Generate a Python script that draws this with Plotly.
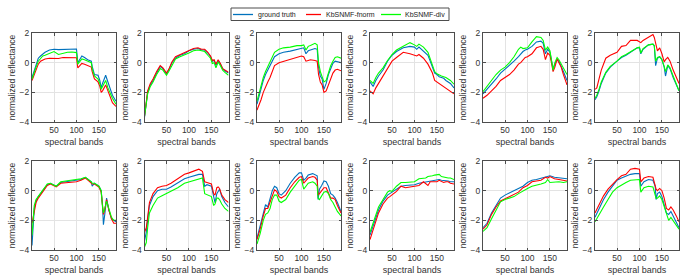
import plotly.graph_objects as go
from plotly.subplots import make_subplots

# ---------------- data ----------------
series_names = ["ground truth", "KbSNMF-fnorm", "KbSNMF-div"]
x_ticks = [50, 100, 150]
y_ticks = [-4, -2, 0, 2]

p1_bands = [1, 5, 10, 15, 20, 25, 30, 40, 50, 60, 70, 80, 90, 100, 103, 107, 112, 118, 125, 133, 135, 140, 148, 152, 155, 158, 165, 170, 175, 180, 188]
p1_truth = [-1.0, -0.6, -0.1, 0.3, 0.45, 0.6, 0.7, 0.85, 0.9, 0.88, 0.9, 0.93, 0.95, 0.92, 0.0, 0.2, 0.45, 0.35, 0.2, 0.1, -0.25, -0.8, -0.85, -1.2, -1.7, -1.4, -0.85, -1.3, -1.8, -2.2, -2.6]
p1_fnorm = [-1.2, -0.9, -0.4, -0.1, 0.1, 0.2, 0.25, 0.3, 0.3, 0.28, 0.35, 0.35, 0.38, 0.33, -0.35, -0.2, -0.05, -0.1, -0.2, -0.3, -0.6, -1.1, -1.3, -1.6, -2.0, -1.9, -1.5, -1.9, -2.4, -2.7, -2.95]
p1_div = [-1.1, -0.8, -0.3, 0.1, 0.3, 0.45, 0.5, 0.6, 0.75, 0.55, 0.65, 0.7, 0.72, 0.68, -0.1, 0.05, 0.25, 0.2, 0.1, 0.0, -0.4, -0.9, -1.1, -1.4, -1.8, -1.6, -1.2, -1.7, -2.1, -2.4, -2.8]

p2_bands = [1, 4, 8, 14, 20, 28, 36, 42, 50, 55, 62, 70, 80, 90, 100, 110, 120, 128, 135, 142, 148, 152, 156, 160, 165, 170, 175, 180, 188]
p2_truth = [-3.7, -2.8, -2.0, -1.5, -1.2, -0.7, -0.25, -0.4, -0.75, -0.5, 0.0, 0.3, 0.5, 0.6, 0.8, 0.9, 0.95, 0.85, 0.85, 0.65, 0.4, 0.1, 0.15, -0.2, 0.15, -0.1, -0.4, -0.55, -0.7]
p2_fnorm = [-3.6, -2.7, -1.9, -1.4, -1.1, -0.6, -0.2, -0.35, -0.7, -0.45, 0.05, 0.4, 0.55, 0.7, 0.85, 0.95, 1.0, 0.9, 0.9, 0.7, 0.45, 0.15, 0.2, -0.1, 0.2, -0.05, -0.4, -0.5, -0.65]
p2_div = [-3.6, -2.8, -2.1, -1.6, -1.3, -0.8, -0.4, -0.5, -0.85, -0.6, -0.15, 0.25, 0.4, 0.5, 0.65, 0.8, 0.85, 0.8, 0.75, 0.5, 0.3, -0.05, 0.0, -0.35, 0.05, -0.2, -0.5, -0.65, -0.85]

p3_bands = [1, 5, 10, 15, 20, 25, 30, 35, 40, 50, 60, 75, 90, 100, 105, 110, 115, 120, 130, 135, 138, 142, 146, 150, 155, 160, 165, 170, 175, 180, 188]
p3_truth = [-2.8, -2.3, -1.7, -1.2, -0.8, -0.5, -0.3, 0.1, 0.4, 0.6, 0.7, 0.78, 0.9, 0.95, 1.0, 0.6, 0.8, 0.85, 0.95, 0.9, -0.3, -0.9, -1.1, -1.8, -1.4, -0.8, -0.35, -0.05, 0.1, 0.05, 0.0]
p3_fnorm = [-3.2, -2.9, -2.5, -2.0, -1.6, -1.3, -1.0, -0.6, -0.2, 0.0, 0.1, 0.2, 0.35, 0.45, 0.4, 0.1, 0.15, 0.2, 0.15, 0.1, -0.8, -1.3, -1.5, -2.0, -1.9, -1.5, -1.0, -0.7, -0.5, -0.45, -0.55]
p3_div = [-2.6, -2.1, -1.5, -1.0, -0.6, -0.3, 0.1, 0.4, 0.7, 0.9, 1.0, 1.05, 1.15, 1.15, 1.2, 0.85, 1.1, 1.15, 1.3, 1.2, 0.0, -0.6, -0.9, -1.3, -1.2, -0.7, -0.2, 0.1, 0.35, 0.4, 0.3]

p4_bands = [1, 4, 8, 14, 20, 30, 40, 50, 60, 75, 90, 100, 105, 110, 120, 130, 135, 140, 145, 150, 155, 160, 165, 170, 180, 188]
p4_truth = [-1.3, -1.45, -1.6, -1.2, -0.9, -0.5, 0.1, 0.5, 0.75, 1.0, 1.1, 1.05, 0.9, 1.05, 0.8, 0.5, 0.1, -0.3, -0.7, -0.8, -0.95, -1.0, -1.05, -1.2, -1.4, -1.7]
p4_fnorm = [-1.9, -2.0, -2.1, -1.7, -1.4, -0.95, -0.4, 0.1, 0.35, 0.7, 0.6, 0.5, 0.45, 0.55, 0.3, -0.1, -0.4, -0.7, -1.2, -1.3, -1.45, -1.5, -1.6, -1.7, -1.9, -2.1]
p4_div = [-1.2, -1.3, -1.4, -1.0, -0.7, -0.35, 0.15, 0.55, 0.85, 1.1, 1.35, 1.2, 1.1, 1.25, 1.05, 0.7, 0.3, -0.2, -0.6, -0.75, -0.85, -0.9, -0.95, -1.0, -1.2, -1.45]

p5_bands = [1, 10, 20, 30, 40, 50, 60, 70, 80, 85, 90, 95, 100, 110, 120, 130, 135, 140, 145, 150, 154, 157, 161, 166, 170, 175, 180, 188]
p5_truth = [-2.1, -1.8, -1.5, -1.1, -0.7, -0.45, -0.2, 0.1, 0.4, 0.6, 0.75, 0.85, 0.9, 1.1, 1.4, 1.45, 1.3, 0.6, 0.9, 0.7, 0.0, -0.4, -0.1, 0.2, 0.1, -0.2, -0.6, -1.2]
p5_fnorm = [-2.4, -2.2, -1.9, -1.6, -1.2, -1.0, -0.8, -0.5, -0.1, 0.0, 0.2, 0.35, 0.4, 0.6, 1.0, 1.1, 0.9, 0.2, 0.65, 0.5, -0.1, -0.6, -0.3, 0.25, 0.0, -0.3, -0.8, -1.5]
p5_div = [-1.95, -1.6, -1.2, -0.8, -0.5, -0.3, 0.0, 0.4, 0.9, 1.05, 0.95, 0.95, 1.0, 1.4, 1.75, 1.7, 1.5, 0.85, 1.05, 0.8, 0.1, -0.5, 0.0, 0.35, 0.2, -0.1, -0.3, -0.8]

p6_bands = [1, 5, 10, 15, 25, 35, 50, 60, 70, 80, 95, 100, 103, 108, 120, 130, 133, 136, 140, 145, 150, 155, 158, 163, 168, 175, 182, 188]
p6_truth = [-2.5, -2.3, -1.9, -1.4, -0.7, -0.3, 0.1, 0.35, 0.5, 0.7, 1.0, 1.0, 0.6, 0.9, 1.2, 1.25, 1.15, -0.2, 0.3, 0.4, 0.2, -0.3, -0.9, -0.2, -0.4, -1.0, -1.5, -1.9]
p6_fnorm = [-1.8, -1.7, -1.1, -0.5, 0.3, 0.5, 0.7, 1.1, 1.15, 1.5, 1.5, 1.4, 1.35, 1.5, 1.75, 1.9, 1.7, 1.3, 0.8, 1.0, 0.6, 0.05, 0.2, 0.35, 0.1, -0.5, -1.0, -1.4]
p6_div = [-2.4, -2.2, -1.8, -1.3, -0.65, -0.25, 0.1, 0.4, 0.55, 0.75, 1.0, 1.05, 0.65, 0.95, 1.2, 1.25, 1.15, 0.1, 0.35, 0.4, 0.2, -0.25, -0.6, -0.15, -0.35, -0.9, -1.4, -1.9]

p7_bands = [1, 3, 6, 10, 15, 25, 35, 42, 48, 55, 65, 80, 90, 100, 110, 120, 128, 133, 135, 140, 150, 155, 158, 160, 163, 167, 172, 178, 183, 188]
p7_truth = [-3.7, -2.5, -1.2, -0.7, -0.4, 0.0, 0.4, 0.5, 0.4, 0.3, 0.55, 0.6, 0.65, 0.7, 0.75, 0.9, 0.7, 0.6, 0.3, 0.5, 0.3, 0.0, -1.0, -2.3, -1.6, -0.5, -1.3, -1.9, -2.0, -2.1]
p7_fnorm = [-2.2, -1.9, -1.2, -0.8, -0.5, -0.1, 0.35, 0.45, 0.35, 0.25, 0.5, 0.55, 0.55, 0.6, 0.7, 0.85, 0.65, 0.55, 0.45, 0.45, 0.25, -0.1, -1.2, -1.6, -1.3, -0.6, -1.3, -1.9, -2.2, -2.2]
p7_div = [-3.0, -2.0, -1.0, -0.6, -0.4, 0.05, 0.45, 0.5, 0.4, 0.3, 0.6, 0.65, 0.7, 0.75, 0.8, 0.9, 0.75, 0.6, 0.5, 0.5, 0.3, 0.0, -1.1, -1.5, -1.2, -0.7, -1.2, -1.8, -2.0, -2.0]

p8_bands = [1, 5, 8, 12, 20, 30, 40, 50, 60, 75, 90, 100, 115, 122, 130, 135, 140, 145, 150, 155, 158, 162, 165, 168, 173, 180, 188]
p8_truth = [-3.4, -2.8, -2.0, -1.0, -0.4, 0.0, 0.1, 0.1, 0.25, 0.5, 0.8, 0.9, 1.05, 1.1, 1.1, 0.3, 0.4, 0.35, 0.3, -0.4, -0.8, -0.2, 0.0, 0.1, -0.4, -0.8, -1.1]
p8_fnorm = [-2.8, -2.5, -1.8, -0.8, -0.2, 0.2, 0.3, 0.35, 0.5, 0.8, 1.1, 1.2, 1.35, 1.45, 1.3, 0.6, 0.55, 0.5, 0.45, -0.2, -0.3, 0.2, 0.25, 0.15, -0.3, -0.6, -0.8]
p8_div = [-3.8, -3.5, -2.5, -1.5, -1.0, -0.5, -0.35, -0.2, 0.0, 0.2, 0.5, 0.6, 0.75, 0.8, 0.85, -0.2, -0.25, -0.3, -0.4, -1.0, -0.9, -0.5, -0.5, -0.6, -0.9, -1.2, -1.4]

p9_bands = [1, 8, 15, 20, 25, 30, 35, 40, 45, 50, 55, 65, 75, 85, 95, 100, 105, 110, 115, 125, 130, 135, 137, 140, 145, 150, 155, 160, 165, 170, 175, 180, 188]
p9_truth = [-3.2, -2.4, -1.5, -0.95, -1.1, -0.6, 0.0, 0.3, 0.2, -0.2, -0.3, 0.0, 0.5, 0.9, 1.2, 1.2, 0.7, 0.85, 1.05, 1.15, 1.1, 1.0, -0.6, 0.1, 0.35, 0.65, 0.6, 0.3, -0.2, -0.3, -0.5, -0.8, -1.4]
p9_fnorm = [-3.3, -2.6, -1.7, -1.2, -1.2, -0.8, -0.3, 0.05, -0.05, -0.4, -0.5, -0.3, 0.2, 0.6, 0.9, 0.95, 0.5, 0.7, 0.85, 0.95, 0.9, 0.7, -0.3, -0.2, 0.0, 0.2, 0.2, -0.1, -0.5, -0.5, -0.6, -1.0, -1.5]
p9_div = [-3.6, -2.9, -2.0, -1.6, -1.5, -1.2, -0.6, -0.3, -0.3, -0.7, -0.8, -0.6, -0.1, 0.3, 0.7, 0.75, 0.1, 0.3, 0.5, 0.6, 0.5, 0.3, -0.5, -0.6, -0.3, -0.1, -0.05, -0.2, -0.6, -0.8, -1.1, -1.4, -1.7]

p10_bands = [1, 10, 20, 30, 40, 45, 50, 60, 70, 80, 90, 100, 110, 120, 125, 130, 135, 140, 145, 150, 155, 160, 165, 170, 175, 180, 188]
p10_truth = [-3.0, -2.2, -1.3, -0.7, -0.3, -0.2, -0.1, 0.1, 0.3, 0.35, 0.35, 0.4, 0.5, 0.55, 0.6, 0.6, 0.65, 0.65, 0.7, 0.75, 0.75, 0.7, 0.7, 0.65, 0.65, 0.6, 0.6]
p10_fnorm = [-3.3, -2.4, -1.5, -0.9, -0.5, -0.4, -0.3, -0.05, 0.3, 0.2, 0.25, 0.3, 0.35, 0.6, 0.5, 0.35, 0.6, 0.6, 0.55, 0.6, 0.7, 0.6, 0.55, 0.6, 0.6, 0.5, 0.45]
p10_div = [-2.8, -2.0, -1.1, -0.6, -0.1, 0.0, -0.05, 0.3, 0.55, 0.55, 0.55, 0.6, 0.8, 0.85, 0.85, 0.95, 0.95, 1.0, 1.05, 1.1, 1.1, 0.95, 0.9, 0.9, 0.85, 0.85, 0.75]

p11_bands = [1, 10, 20, 30, 40, 50, 60, 70, 80, 90, 100, 110, 120, 130, 140, 145, 150, 160, 170, 180, 188]
p11_truth = [-2.5, -2.2, -1.5, -1.0, -0.5, -0.3, -0.15, -0.05, 0.1, 0.3, 0.55, 0.7, 0.75, 0.85, 0.9, 0.95, 1.0, 0.9, 0.85, 0.85, 0.8]
p11_fnorm = [-2.6, -2.3, -1.6, -1.1, -0.7, -0.55, -0.4, -0.3, -0.1, 0.2, 0.35, 0.6, 0.65, 0.7, 0.9, 0.85, 0.95, 0.8, 0.75, 0.7, 0.65]
p11_div = [-2.75, -2.5, -1.9, -1.3, -0.75, -0.6, -0.5, -0.4, -0.2, 0.0, 0.15, 0.3, 0.35, 0.45, 0.55, 0.75, 0.55, 0.6, 0.6, 0.55, 0.6]

p12_bands = [1, 10, 20, 30, 40, 50, 60, 70, 80, 90, 100, 103, 110, 120, 130, 135, 137, 140, 145, 150, 155, 160, 165, 170, 175, 182, 188]
p12_truth = [-1.8, -1.2, -0.6, -0.1, 0.3, 0.7, 0.85, 1.0, 1.1, 1.15, 1.15, 0.3, 0.6, 0.75, 0.7, 0.3, -0.6, -0.2, -0.1, -0.4, -1.0, -1.5, -1.6, -1.4, -1.7, -2.1, -2.5]
p12_fnorm = [-1.5, -1.0, -0.35, 0.1, 0.45, 0.75, 1.0, 1.1, 1.45, 1.5, 1.45, 0.6, 0.85, 0.95, 0.9, 0.4, 0.1, 0.0, 0.15, 0.0, -0.5, -1.2, -1.3, -1.1, -1.3, -1.7, -2.1]
p12_div = [-2.1, -1.6, -1.1, -0.6, -0.1, 0.2, 0.4, 0.55, 0.7, 0.75, 0.75, -0.1, 0.2, 0.3, 0.25, -0.3, -0.5, -0.5, -0.35, -0.6, -1.1, -1.6, -2.0, -1.8, -2.0, -2.3, -2.6]

panels = [
    (p1_bands, p1_truth, p1_fnorm, p1_div),
    (p2_bands, p2_truth, p2_fnorm, p2_div),
    (p3_bands, p3_truth, p3_fnorm, p3_div),
    (p4_bands, p4_truth, p4_fnorm, p4_div),
    (p5_bands, p5_truth, p5_fnorm, p5_div),
    (p6_bands, p6_truth, p6_fnorm, p6_div),
    (p7_bands, p7_truth, p7_fnorm, p7_div),
    (p8_bands, p8_truth, p8_fnorm, p8_div),
    (p9_bands, p9_truth, p9_fnorm, p9_div),
    (p10_bands, p10_truth, p10_fnorm, p10_div),
    (p11_bands, p11_truth, p11_fnorm, p11_div),
    (p12_bands, p12_truth, p12_fnorm, p12_div),
]

# ---------------- styling ----------------
W, H = 683, 276
colors = ["#0072BD", "#FF0000", "#00FF00"]
FONT = "Liberation Sans, Arial, sans-serif"
TXT = "#333333"
col_left_px = [32, 144.5, 257, 370, 483, 595]
plot_w_px = 84
row_top_px = [33, 161]
plot_h_px = 89

fig = make_subplots(rows=2, cols=6)

for i, (bands, truth, fnorm, div) in enumerate(panels):
    r, c = i // 6 + 1, i % 6 + 1
    for j, vals in enumerate([truth, fnorm, div]):
        fig.add_trace(
            go.Scatter(x=bands, y=vals, mode="lines", name=series_names[j],
                       line=dict(color=colors[j], width=1.1),
                       showlegend=False, legendgroup=series_names[j]),
            row=r, col=c)

for i in range(12):
    r, c = i // 6, i % 6
    x0 = col_left_px[c] / W
    x1 = (col_left_px[c] + plot_w_px) / W
    y1 = 1 - row_top_px[r] / H
    y0 = 1 - (row_top_px[r] + plot_h_px) / H
    sfx = "" if i == 0 else str(i + 1)
    fig.layout["xaxis" + sfx].update(
        domain=[x0, x1], range=[1, 188], tickvals=x_ticks,
        showgrid=True, gridcolor="#e3e3e3", gridwidth=1,
        showline=True, mirror="ticks", linecolor="#4d4d4d", linewidth=1,
        ticks="inside", ticklen=2.5, tickcolor="#4d4d4d",
        tickfont=dict(size=8.5, color=TXT, family=FONT),
        zeroline=False, automargin=False,
        title=dict(text="spectral bands", font=dict(size=9, color=TXT, family=FONT), standoff=4),
    )
    fig.layout["yaxis" + sfx].update(
        domain=[y0, y1], range=[-4, 2], tickvals=y_ticks,
        showgrid=True, gridcolor="#e3e3e3", gridwidth=1,
        showline=True, mirror="ticks", linecolor="#4d4d4d", linewidth=1,
        ticks="inside", ticklen=2.5, tickcolor="#4d4d4d",
        tickfont=dict(size=8.5, color=TXT, family=FONT),
        zeroline=False, automargin=False,
        title=dict(text="normalized reflectance", font=dict(size=8.5, color=TXT, family=FONT), standoff=2),
    )

# ---- legend box drawn in paper space (MATLAB-style compact legend) ----
leg_box = (231, 8, 449, 20.5)       # px: left, top, right, bottom
leg_lines = [(233, 253), (306, 321), (381, 401)]
leg_text_x = [256, 323.5, 403]
leg_y = 14.5

def px(x):
    return x / W

def py(y):
    return 1 - y / H

fig.add_shape(type="rect", xref="paper", yref="paper",
              x0=px(leg_box[0]), x1=px(leg_box[2]), y0=py(leg_box[3]), y1=py(leg_box[1]),
              line=dict(color="#4d4d4d", width=1), fillcolor="white", layer="above")
for j in range(3):
    fig.add_shape(type="line", xref="paper", yref="paper",
                  x0=px(leg_lines[j][0]), x1=px(leg_lines[j][1]), y0=py(leg_y), y1=py(leg_y),
                  line=dict(color=colors[j], width=1.3), layer="above")
    fig.add_annotation(xref="paper", yref="paper", x=px(leg_text_x[j]), y=py(leg_y),
                       xanchor="left", yanchor="middle", showarrow=False,
                       text=series_names[j], font=dict(size=7, color="#222222", family=FONT))

fig.update_layout(
    width=W, height=H,
    margin=dict(l=0, r=0, t=0, b=0),
    paper_bgcolor="white", plot_bgcolor="white",
    font=dict(family=FONT, size=8, color=TXT),
    showlegend=False,
)

fig.write_html("out.html",
               config={"displayModeBar": False},
               post_script="document.body.style.margin='0';document.body.style.overflow='hidden';")
